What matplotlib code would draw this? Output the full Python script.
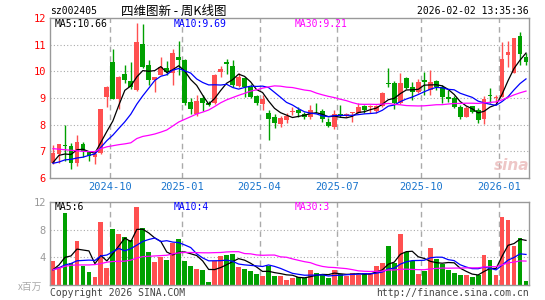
import numpy as np
import pandas as pd
from matplotlib import pyplot as plt

title = '四维图新 - 周K线图'
code = 'sz002405'
stamp = '2026-02-02 13:35:36'

# weekly candles, 2024-07-29 .. 2026-02-02
opens = [6.58, 6.90, 7.25, 7.20, 6.58, 7.27, 6.97, 6.80, 6.95, 9.05,
         10.35, 8.95, 9.90, 9.65, 9.30, 11.02, 10.24, 9.67, 9.86, 10.14,
         9.95, 10.54, 10.42, 8.85, 8.41, 9.00, 8.83, 8.82, 9.97, 10.36,
         10.20, 9.45, 9.76, 9.40, 9.08, 8.78, 8.43, 8.28, 8.02, 8.17,
         8.47, 8.55, 8.39, 8.27, 8.53, 8.51, 8.11, 7.90, 8.40, 8.32,
         8.42, 8.45, 8.70, 8.65, 8.52, 8.70, 9.57, 9.55, 8.82, 9.74,
         9.43, 9.24, 9.68, 9.30, 9.65, 9.43, 9.05, 8.99, 8.67, 8.30,
         8.70, 8.55, 8.20, 9.13, 9.00, 9.05, 10.61, 9.95, 11.33, 10.55]
highs = [7.22, 7.28, 8.00, 7.30, 7.61, 7.36, 7.00, 7.00, 8.60, 9.45,
         10.84, 9.82, 10.24, 10.36, 11.82, 11.77, 10.42, 9.80, 10.55, 10.39,
         10.85, 11.15, 10.48, 9.01, 9.10, 9.13, 8.90, 9.90, 10.20, 10.45,
         10.42, 9.92, 9.80, 9.51, 9.10, 9.11, 8.55, 8.40, 8.33, 8.42,
         8.67, 8.67, 8.49, 8.74, 8.80, 8.57, 8.24, 8.55, 8.74, 8.45,
         8.49, 8.80, 8.74, 8.74, 8.74, 9.24, 10.12, 9.65, 9.95, 9.80,
         9.61, 9.70, 9.99, 10.05, 9.68, 9.49, 9.30, 9.07, 8.74, 8.70,
         8.70, 8.61, 9.07, 9.36, 9.11, 11.10, 11.15, 11.25, 11.49, 10.68]
lows = [6.53, 6.55, 6.65, 6.32, 6.45, 6.80, 6.65, 6.52, 6.90, 8.65,
        8.95, 8.57, 9.55, 9.32, 9.27, 10.11, 9.49, 9.24, 9.85, 9.86,
        9.50, 9.86, 8.74, 8.40, 8.32, 8.50, 8.70, 8.78, 9.80, 9.90,
        9.42, 9.42, 9.05, 8.99, 8.72, 8.55, 7.43, 7.87, 7.92, 8.05,
        8.36, 8.27, 8.20, 8.20, 8.42, 8.11, 7.90, 7.82, 8.27, 8.27,
        8.11, 8.42, 8.45, 8.45, 8.42, 8.68, 9.42, 8.57, 8.77, 9.32,
        8.93, 9.18, 9.11, 9.11, 9.30, 8.83, 8.86, 8.61, 8.20, 8.27,
        8.42, 8.08, 8.03, 8.80, 8.83, 9.02, 10.17, 9.93, 10.24, 10.24]
closes = [6.92, 7.27, 7.20, 6.55, 7.35, 7.02, 6.82, 6.90, 8.60, 9.40,
          8.97, 9.80, 9.67, 9.42, 11.10, 10.15, 9.67, 9.80, 10.17, 9.99,
          10.67, 10.42, 8.80, 8.58, 8.89, 8.83, 8.75, 9.86, 10.07, 10.26,
          9.49, 9.80, 9.43, 9.05, 8.80, 8.95, 8.21, 8.05, 8.24, 8.34,
          8.50, 8.42, 8.27, 8.55, 8.50, 8.20, 7.96, 8.40, 8.32, 8.40,
          8.49, 8.67, 8.55, 8.70, 8.70, 9.20, 9.52, 8.82, 9.57, 9.39,
          9.24, 9.61, 9.60, 9.61, 9.43, 9.03, 8.95, 8.65, 8.28, 8.61,
          8.49, 8.18, 8.95, 9.08, 9.03, 10.45, 10.74, 11.24, 10.64, 10.36]
# volume, millions of shares
volumes = [3.47, 2.55, 10.4, 3.2, 6.35, 2.8, 1.9, 1.15, 9.1, 2.45,
           8.1, 7.4, 6.9, 6.5, 11.3, 8.2, 4.7, 3.3, 4.05, 3.6,
           6.1, 6.65, 3.5, 2.75, 2.3, 2.2, 0.5, 3.4, 4.2, 4.35,
           4.5, 2.6, 2.3, 2.0, 1.6, 1.3, 2.75, 1.3, 1.3, 0.7,
           1.0, 1.2, 1.0, 2.1, 1.75, 1.6, 1.05, 2.1, 1.6, 1.35,
           1.7, 1.45, 1.7, 1.8, 2.75, 3.2, 5.6, 3.2, 7.4, 4.7,
           3.5, 1.6, 2.0, 5.35, 3.7, 3.1, 2.1, 1.8, 1.45, 1.45,
           1.1, 1.45, 4.35, 3.6, 1.45, 9.9, 9.4, 5.6, 6.75, 0.6]

# moving-average values before the window is full
ma5_head = [6.58, 6.85, 6.90, 6.88]
ma10_head = [6.55, 6.60, 6.68, 6.70, 6.75, 6.78, 6.85, 6.90, 7.15]
ma30_head = [7.10, 7.08, 7.06, 7.04, 7.02, 7.00, 6.99, 6.99, 7.10, 7.17,
             7.21, 7.25, 7.28, 7.32, 7.48, 7.56, 7.60, 7.65, 7.72, 7.80,
             7.95, 8.10, 8.20, 8.30, 8.40, 8.47, 8.55, 8.68, 8.82]
vma5_head = [2.2, 2.9, 4.0, 4.2]
vma10_head = [2.2, 2.5, 2.9, 3.1, 3.5, 3.55, 3.6, 3.55, 4.2]
vma30_head = [2.2, 2.4, 2.7, 2.85, 2.9, 2.9, 2.9, 2.95, 3.1, 3.3,
              3.4, 3.42, 3.45, 3.6, 3.9, 4.1, 4.15, 4.2, 4.25, 4.3,
              4.5, 4.65, 4.7, 4.7, 4.68, 4.66, 4.65, 4.68, 4.7]

month_idx = [10, 22, 35, 48, 62, 75]
month_labels = ['2024-10', '2025-01', '2025-04', '2025-07', '2025-10', '2026-01']
price_ma_labels = ['MA5:10.66', 'MA10:9.69', 'MA30:9.21']
vol_ma_labels = ['MA5:6', 'MA10:4', 'MA30:3']

RED = '#ff5050'
GREEN = '#00a000'
MA_COLORS = ['black', '#0000ff', '#ff00ff']
GRID = '#aaaaaa'
MONO = 'DejaVu Sans Mono'
CJK = ['Noto Sans CJK SC', 'DejaVu Sans']


def moving(values, n, head):
    s = pd.Series(values).rolling(n).mean().to_numpy()
    s[:len(head)] = head
    return s


o = np.array(opens)
h = np.array(highs)
l = np.array(lows)
c = np.array(closes)
v = np.array(volumes)
x = np.arange(len(c))
cols = np.where(c >= o, RED, GREEN)

W, H = 545, 300
fig = plt.figure(figsize=(W / 100, H / 100), dpi=100)


def box(left, top, right, bottom):
    return [left / W, 1 - bottom / H, (right - left) / W, (bottom - top) / H]


ax = fig.add_axes(box(50, 18, 529, 178))
axv = fig.add_axes(box(50, 202, 529, 285))

for a in (ax, axv):
    a.set_xlim(-0.5, len(c) - 0.5)
    for sp in a.spines.values():
        sp.set_color('#999999')
        sp.set_linewidth(1)
    for i in month_idx:
        a.axvline(i - 0.5, color=GRID, ls=(0, (4, 3)), lw=1, zorder=0)

# price panel
ax.set_ylim(6, 12)
for y in range(7, 12):
    ax.axhline(y, color=GRID, ls=(0, (1, 2)), lw=0.8, zorder=0)
ax.vlines(x, l, h, colors=cols, lw=1, zorder=2)
ax.bar(x, np.maximum(np.abs(c - o), 0.03), bottom=np.minimum(o, c),
       width=0.8, color=cols, linewidth=0, zorder=2)
for n, head, col in zip((5, 10, 30), (ma5_head, ma10_head, ma30_head), MA_COLORS):
    ax.plot(x, moving(closes, n, head), color=col, lw=0.9, zorder=3)

ax.set_yticks(range(6, 13))
ax.set_yticklabels([str(t) for t in range(6, 13)], color='red', family=MONO, fontsize=7.5)
ax.set_xticks([i - 0.5 for i in month_idx])
ax.set_xticklabels(month_labels, color='#1874cd', family=MONO, fontsize=7.5)
ax.tick_params(length=0, pad=3)

# volume panel
axv.set_ylim(0, 12)
for y in (4, 8):
    axv.axhline(y, color=GRID, ls=(0, (1, 2)), lw=0.8, zorder=0)
axv.bar(x, v, width=0.8, color=cols, linewidth=0, zorder=2)
for n, head, col in zip((5, 10, 30), (vma5_head, vma10_head, vma30_head), MA_COLORS):
    axv.plot(x, moving(volumes, n, head), color=col, lw=0.9, zorder=3)
axv.set_yticks([4, 8, 12])
axv.set_yticklabels(['4', '8', '12'], color='#999999', family=MONO, fontsize=7.5)
axv.set_xticks([])
axv.tick_params(length=0, pad=3)


def txt(px, py, s, **kw):
    kw.setdefault('family', MONO)
    kw.setdefault('fontsize', 7)
    kw.setdefault('va', 'center')
    fig.text(px / W, 1 - py / H, s, **kw)


txt(50, 11, code, color='black')
txt(121, 11, title, family=CJK, fontsize=9, color='black')
txt(529, 11, stamp, ha='right', color='black')
for px, s, col in zip((55, 174, 295), price_ma_labels, MA_COLORS):
    txt(px, 24, s, color=col)
for px, s, col in zip((55, 174, 295), vol_ma_labels, MA_COLORS):
    txt(px, 207, s, color=col)
txt(18, 287, 'x百万', family=CJK, fontsize=7, color='#aaaaaa')
txt(50, 293, 'Copyright 2026 SINA.COM', color='#444444')
txt(529, 293, 'http://finance.sina.com.cn', ha='right', color='#444444')
txt(512, 165, 'sina', ha='center', fontsize=11, color='#e8b0b0',
    family='DejaVu Sans', weight='bold', style='italic', alpha=0.7)

plt.savefig('out.png', dpi=100)
plt.close()
